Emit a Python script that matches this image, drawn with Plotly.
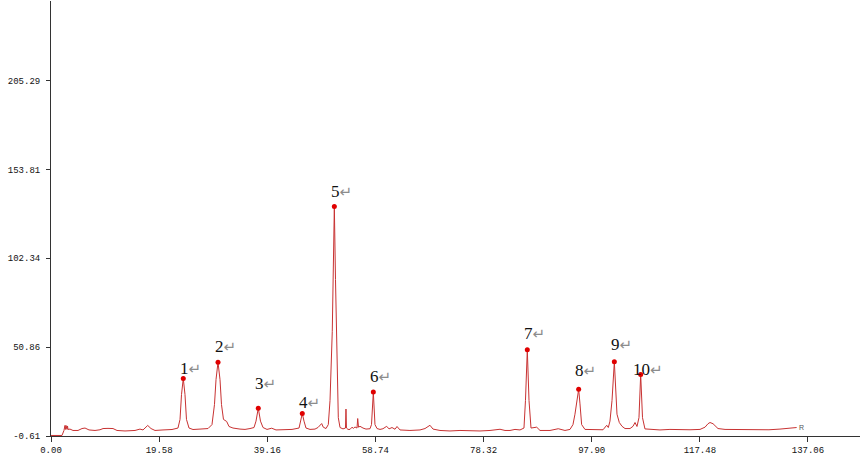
import plotly.graph_objects as go

# ---- data ----
time_min = [0, 1.99, 2.35, 2.53, 2.63, 2.72, 2.90, 2.99, 3.08, 3.44, 3.98, 4.89, 5.61, 6.16, 6.88, 7.97,
            8.87, 9.42, 10.32, 11.23, 11.95, 13.40, 15.21, 16.11, 16.66, 17.51, 18.11, 18.83, 20.28, 21.91,
            22.99, 23.36, 23.63, 23.95, 24.26, 24.53, 24.99, 25.71, 26.98, 28.43, 29.15, 29.60, 29.88, 30.24,
            30.60, 30.87, 31.23, 31.81, 32.23, 32.95, 34.22, 35.13, 36.03, 36.76, 37.12, 37.53, 37.93, 38.39,
            39.11, 39.96, 40.74, 42.37, 43.64, 44.91, 45.18, 45.50, 45.81, 46.17, 46.90, 47.80, 48.34, 49.01,
            49.30, 49.79, 50.21, 50.52, 50.93, 51.11, 51.30, 51.51, 51.69, 52.02, 52.33, 52.87, 53.32, 53.41,
            53.50, 53.78, 54.14, 54.50, 54.74, 55.04, 55.41, 55.53, 55.68, 55.95, 56.49, 57.03, 57.76, 58.03,
            58.36, 58.66, 59.03, 59.57, 60.11, 60.78, 61.20, 61.74, 62.29, 62.65, 63.19, 64.99, 66.81, 67.72,
            68.62, 69.17, 70.43, 72.24, 74.05, 75.86, 77.67, 79.49, 81.30, 82.20, 83.11, 84.01, 84.92, 85.64,
            85.91, 86.24, 86.55, 86.91, 87.94, 88.54, 90.35, 91.85, 93.06, 93.97, 94.51, 94.87, 95.23, 95.54,
            95.78, 96.08, 96.68, 98.49, 99.95, 100.62, 100.91, 101.21, 101.58, 102.00, 102.30, 102.48, 102.90,
            103.39, 103.93, 104.84, 105.38, 105.74, 106.10, 106.46, 106.77, 107.10, 107.54, 108.45, 110.26,
            112.07, 113.89, 115.70, 117.51, 118.42, 118.96, 119.32, 119.87, 120.77, 122.04, 124.76, 126.5,
            128.37, 130.0, 131.99, 133.80, 135.01]
signal = [-0.3, -0.3, 2.6, 5.5, 3.2, 5.5, 3.2, 5.2, 3.2, 3.4, 2.6, 2.6, 3.7, 4.0, 2.9, 2.6,
          3.0, 3.7, 3.8, 3.7, 2.6, 2.3, 2.6, 3.4, 2.9, 5.5, 3.7, 2.6, 2.9, 3.15,
          4.0, 9.0, 23.4, 32.7, 23.4, 9.0, 4.0, 3.15, 3.4, 3.7, 6.0, 17.6, 32.1, 42.1,
          32.1, 17.6, 9.0, 7.8, 4.9, 4.0, 3.4, 3.2, 3.7, 4.3, 8.0, 15.5, 8.0, 4.3,
          3.2, 3.9, 2.9, 2.9, 3.2, 4.0, 8.0, 12.4, 8.0, 4.0, 3.2, 3.4, 4.3, 6.6,
          4.5, 3.7, 6.0, 20.0, 60.0, 90.0, 132.3, 90.0, 60.0, 10.0, 4.3, 3.5, 4.0, 15.0,
          4.0, 3.2, 3.2, 4.5, 3.8, 4.6, 4.0, 9.5, 4.5, 5.0, 4.0, 3.4, 3.6, 6.0,
          24.8, 6.0, 3.7, 3.2, 3.6, 5.0, 3.5, 4.3, 3.3, 4.9, 2.9, 2.6, 2.9, 3.7,
          5.6, 3.4, 2.6, 2.3, 2.6, 2.3, 2.3, 2.6, 3.3, 2.6, 2.6, 3.2, 2.9, 4.0,
          20.0, 49.3, 20.0, 4.0, 4.5, 2.6, 2.6, 3.6, 2.6, 3.2, 6.0, 12.0, 21.0, 26.5,
          18.0, 6.0, 3.2, 2.9, 3.0, 5.6, 4.3, 8.0, 20.0, 42.4, 25.0, 12.0, 7.2,
          5.0, 3.7, 3.7, 5.0, 7.2, 4.9, 10.0, 35.0, 10.0, 3.5, 3.2, 2.9,
          3.2, 2.9, 3.0, 3.2, 4.5, 6.5, 7.2, 6.5, 3.7, 3.2, 3.2, 2.9,
          3.2, 3.0, 3.4, 3.7, 4.3]

peak_names = ["1", "2", "3", "4", "5", "6", "7", "8", "9", "10"]
peak_time = [23.95, 30.24, 37.53, 45.50, 51.30, 58.36, 86.24, 95.54, 102.00, 106.77]
peak_height = [32.7, 42.1, 15.5, 12.4, 132.3, 24.8, 49.3, 26.5, 42.4, 35.0]

x_ticks = [0.00, 19.58, 39.16, 58.74, 78.32, 97.90, 117.48, 137.06]
y_ticks = [-0.61, 50.86, 102.34, 153.81, 205.29]

# label gap (px) between marker and digit bottom (style)
label_gap = [4, 10, 19, 6, 9, 10, 11, 13, 12, 0]

fig = go.Figure()
fig.add_trace(go.Scatter(x=time_min, y=signal, mode="lines",
                         line=dict(color="#c83232", width=1), hoverinfo="skip"))
fig.add_trace(go.Scatter(x=peak_time, y=peak_height, mode="markers",
                         marker=dict(color="#e00000", size=5), hoverinfo="skip"))

ann = []
for name, t, h, g in zip(peak_names, peak_time, peak_height, label_gap):
    ann.append(dict(
        x=t, y=h, xref="x", yref="y", showarrow=False,
        xanchor="left", yanchor="bottom",
        xshift=-4.3 * len(name) - 1, yshift=g - 6,
        text=name + "<span style=\"color:#8c8c8c;font-family:'DejaVu Sans';font-size:15px\">↵</span>",
        font=dict(family="Liberation Serif", size=17, color="#111111"),
    ))
ann.append(dict(x=time_min[-1], y=signal[-1], xref="x", yref="y", showarrow=False,
                xanchor="left", yanchor="middle", xshift=0, text="R",
                font=dict(family="Liberation Sans", size=7, color="#555555")))

fig.update_layout(
    width=862, height=458,
    margin=dict(l=51, r=2, t=1, b=22),
    paper_bgcolor="white", plot_bgcolor="white",
    showlegend=False,
    annotations=ann,
    xaxis=dict(range=[0, 146.48], tickvals=x_ticks, ticktext=[f"{v:.2f}" for v in x_ticks],
               showline=True, linecolor="#333333", linewidth=1, ticks="outside", ticklen=5,
               tickcolor="#333333", showgrid=False, zeroline=False, automargin=False,
               tickfont=dict(family="Liberation Mono", size=9, color="#111111")),
    yaxis=dict(range=[-0.61, 251.3], tickvals=y_ticks, ticktext=[f"{v:.2f}" for v in y_ticks],
               showline=True, linecolor="#333333", linewidth=1, ticks="outside", ticklen=4,
               tickcolor="#333333", showgrid=False, zeroline=False, ticklabelstandoff=4,
               automargin=False,
               tickfont=dict(family="Liberation Mono", size=9, color="#111111")),
)

fig.write_html("out.html", config={"displayModeBar": False},
               post_script="document.body.style.margin='0px';")
